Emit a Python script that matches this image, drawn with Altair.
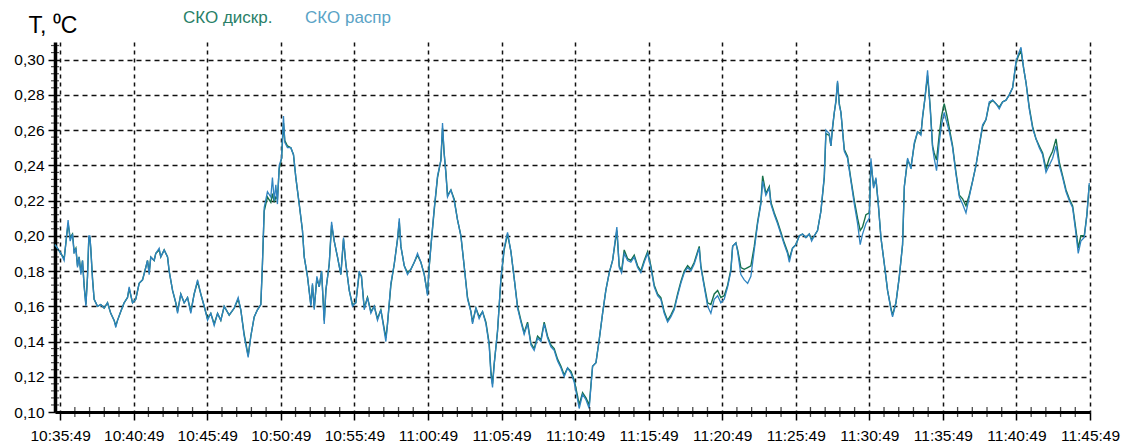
import json

import altair as alt
import pandas as pd

# Time axis: minutes elapsed since 10:35:49
minutes = [
    -0.35, 0.05, 0.27, 0.54, 0.68, 0.84, 0.95, 1.07, 1.18, 1.29, 1.41, 1.52, 1.63, 1.75, 1.86, 1.95, 2.02, 2.08,
    2.20, 2.31, 2.54, 2.76, 2.99, 3.22, 3.44, 3.67, 3.78, 3.90, 4.12, 4.35, 4.58, 4.69, 4.92, 5.14, 5.37, 5.60,
    5.82, 5.94, 6.05, 6.16, 6.39, 6.50, 6.73, 6.84, 7.07, 7.30, 7.41, 7.64, 7.86, 7.98, 8.20, 8.43, 8.66, 8.88,
    9.11, 9.34, 9.56, 9.79, 10.02, 10.24, 10.47, 10.70, 10.92, 11.15,
    11.49, 11.83, 12.10, 12.28, 12.51, 12.78, 12.96, 13.19, 13.41, 13.64, 13.75, 13.87, 14.09, 14.32, 14.43,
    14.55, 14.66, 14.77, 14.89, 15.05, 15.18, 15.27, 15.45, 15.68, 15.86, 16.02, 16.25, 16.47, 16.59, 16.81,
    17.04, 17.15, 17.27, 17.45, 17.61, 17.77, 17.95, 18.06, 18.29, 18.45, 18.63, 18.85, 19.08, 19.26, 19.42,
    19.65, 19.87, 20.10, 20.33, 20.48, 20.67, 20.89, 21.12, 21.35, 21.57, 21.80, 22.14, 22.25, 22.48, 22.71,
    22.93, 23.05, 23.16, 23.39, 23.61, 23.84, 24.07, 24.29, 24.52, 24.75, 24.97, 25.09, 25.20, 25.42, 25.65,
    25.88, 25.99, 26.10, 26.22, 26.33, 26.56, 26.78, 27.01, 27.24, 27.46, 27.69, 27.92, 28.03, 28.26, 28.48,
    28.71, 28.94, 29.16, 29.28, 29.39, 29.50, 29.73, 29.96, 30.18, 30.41, 30.64, 30.86, 31.09, 31.32, 31.54,
    31.77, 32.00, 32.22, 32.45, 32.68, 32.90, 33.13, 33.36, 33.58, 33.81, 34.04, 34.26,
    34.49, 34.72, 34.94, 35.17, 35.28, 35.51, 35.74, 35.96, 36.19, 36.42, 36.64, 36.87, 37.09, 37.32, 37.55,
    37.84, 38.00, 38.16, 38.34, 38.57, 38.79, 39.02, 39.25, 39.47, 39.70, 39.93, 40.15, 40.38, 40.61, 40.83,
    41.06, 41.29, 41.51, 41.74, 41.97, 42.19, 42.42, 42.65, 42.87, 43.10, 43.44, 43.55, 43.78, 44.01, 44.23,
    44.46, 44.69, 44.91, 45.14, 45.37, 45.59, 45.71, 45.93,
    46.05, 46.27, 46.50, 46.73, 46.95, 47.18, 47.41, 47.63, 47.75, 47.97, 48.20, 48.31, 48.54, 48.76, 48.99,
    49.22, 49.44, 49.56, 49.78, 50.01, 50.24, 50.46, 50.69, 50.92, 51.08, 51.26, 51.48, 51.71, 51.94, 52.05,
    52.28, 52.39, 52.50, 52.62, 52.73, 52.84, 52.96, 53.07, 53.30, 53.52, 53.75, 53.98, 54.20, 54.38, 54.54,
    54.77, 55.00, 55.11, 55.29, 55.45, 55.61, 55.79, 56.02, 56.24, 56.47, 56.58, 56.81, 57.04, 57.26,
    57.38, 57.60, 57.83, 58.06, 58.28, 58.51, 58.62, 58.78, 58.96, 59.14, 59.30, 59.41, 59.57, 59.75, 59.91,
    60.09, 60.28, 60.44, 60.66, 60.89, 61.12, 61.34, 61.57, 61.79, 62.02, 62.25, 62.47, 62.70, 62.93, 63.15,
    63.38, 63.61, 63.83, 64.06, 64.29, 64.51, 64.74, 64.97, 65.13, 65.31, 65.49, 65.65, 65.87, 66.10, 66.33,
    66.55, 66.78, 67.01, 67.23, 67.46, 67.69, 67.91, 68.14, 68.37, 68.59, 68.82, 69.05, 69.20, 69.38, 69.61,
    69.79, 69.95,
]

# СКО распр
sko_distr = [
    0.195, 0.190, 0.186, 0.209, 0.197, 0.201, 0.190, 0.193, 0.182, 0.188, 0.178, 0.186, 0.171, 0.160, 0.177, 0.200, 0.200, 0.193,
    0.175, 0.164, 0.160, 0.161, 0.159, 0.162, 0.156, 0.152, 0.148, 0.152, 0.157, 0.162, 0.165, 0.171, 0.162, 0.164, 0.173, 0.175,
    0.182, 0.186, 0.178, 0.188, 0.186, 0.190, 0.193, 0.188, 0.192, 0.188, 0.180, 0.169, 0.162, 0.156, 0.167, 0.162, 0.165, 0.156,
    0.167, 0.175, 0.167, 0.160, 0.152, 0.156, 0.149, 0.156, 0.152, 0.160,
    0.155, 0.159, 0.165, 0.158, 0.143, 0.131, 0.143, 0.154, 0.158, 0.161, 0.184, 0.216, 0.225, 0.222, 0.233,
    0.220, 0.229, 0.218, 0.240, 0.244, 0.268, 0.253, 0.250, 0.250, 0.246, 0.233, 0.218, 0.203, 0.188, 0.177,
    0.160, 0.173, 0.158, 0.177, 0.171, 0.180, 0.150, 0.169, 0.184, 0.208, 0.197, 0.188, 0.178, 0.199, 0.184,
    0.169, 0.160, 0.162, 0.180, 0.177, 0.158, 0.165, 0.156, 0.160, 0.152, 0.158, 0.140, 0.150, 0.173, 0.184,
    0.198, 0.210, 0.194, 0.183, 0.178, 0.181, 0.185, 0.190, 0.185, 0.178, 0.166, 0.183, 0.194, 0.215, 0.234,
    0.243, 0.264, 0.247, 0.235, 0.222, 0.226, 0.220, 0.209, 0.200, 0.183, 0.164, 0.157, 0.150, 0.159, 0.153,
    0.157, 0.150, 0.138, 0.121, 0.114, 0.127, 0.146, 0.176, 0.193, 0.202, 0.191, 0.176, 0.159, 0.151, 0.144,
    0.150, 0.138, 0.135, 0.142, 0.140, 0.150, 0.142, 0.137, 0.135, 0.129, 0.125, 0.120,
    0.125, 0.122, 0.117, 0.107, 0.102, 0.110, 0.107, 0.102, 0.126, 0.128, 0.141, 0.156, 0.169, 0.179, 0.186,
    0.205, 0.182, 0.179, 0.190, 0.186, 0.185, 0.188, 0.182, 0.179, 0.185, 0.190, 0.182, 0.171, 0.166, 0.164,
    0.156, 0.151, 0.154, 0.158, 0.166, 0.173, 0.179, 0.182, 0.180, 0.184, 0.193, 0.182, 0.171, 0.160, 0.156,
    0.164, 0.166, 0.162, 0.164, 0.171, 0.180, 0.194, 0.196,
    0.191, 0.178, 0.175, 0.173, 0.177, 0.192, 0.207, 0.218, 0.231, 0.223, 0.227, 0.218, 0.212, 0.207, 0.201,
    0.195, 0.190, 0.185, 0.193, 0.195, 0.200, 0.201, 0.199, 0.201, 0.197, 0.200, 0.203, 0.214, 0.234, 0.260,
    0.258, 0.251, 0.262, 0.270, 0.277, 0.288, 0.274, 0.270, 0.248, 0.244, 0.231, 0.218, 0.207, 0.195, 0.201,
    0.207, 0.210, 0.244, 0.227, 0.233, 0.218, 0.199, 0.184, 0.169, 0.158, 0.154, 0.162, 0.177, 0.195,
    0.228, 0.244, 0.238, 0.253, 0.259, 0.257, 0.268, 0.278, 0.294, 0.272, 0.250, 0.244, 0.237, 0.253, 0.263,
    0.270, 0.264, 0.259, 0.250, 0.235, 0.222, 0.218, 0.213, 0.222, 0.231, 0.240, 0.251, 0.263, 0.266, 0.276,
    0.277, 0.275, 0.272, 0.276, 0.277, 0.280, 0.284, 0.299, 0.303, 0.307, 0.295, 0.287, 0.272, 0.261, 0.255,
    0.250, 0.246, 0.236, 0.240, 0.244, 0.251, 0.240, 0.233, 0.225, 0.220, 0.216, 0.201, 0.190, 0.197, 0.199,
    0.212, 0.230,
]

# СКО дискр.
sko_discr = [
    0.195, 0.190, 0.187, 0.207, 0.199, 0.201, 0.191, 0.193, 0.183, 0.188, 0.179, 0.186, 0.172, 0.161, 0.177, 0.199, 0.199, 0.193,
    0.176, 0.164, 0.160, 0.161, 0.159, 0.162, 0.156, 0.152, 0.149, 0.152, 0.157, 0.162, 0.165, 0.170, 0.162, 0.164, 0.173, 0.175,
    0.182, 0.186, 0.179, 0.188, 0.186, 0.190, 0.192, 0.188, 0.192, 0.188, 0.180, 0.169, 0.162, 0.157, 0.167, 0.162, 0.165, 0.157,
    0.167, 0.174, 0.167, 0.160, 0.153, 0.156, 0.150, 0.156, 0.152, 0.160,
    0.155, 0.159, 0.164, 0.158, 0.144, 0.132, 0.143, 0.154, 0.158, 0.161, 0.184, 0.214, 0.222, 0.219, 0.224,
    0.219, 0.222, 0.221, 0.238, 0.244, 0.264, 0.254, 0.251, 0.250, 0.246, 0.233, 0.218, 0.203, 0.188, 0.177,
    0.161, 0.172, 0.159, 0.176, 0.171, 0.180, 0.152, 0.169, 0.184, 0.206, 0.197, 0.188, 0.178, 0.198, 0.184,
    0.169, 0.161, 0.162, 0.179, 0.177, 0.159, 0.165, 0.157, 0.160, 0.153, 0.158, 0.142, 0.150, 0.172, 0.184,
    0.198, 0.208, 0.194, 0.183, 0.179, 0.181, 0.185, 0.189, 0.185, 0.178, 0.167, 0.183, 0.194, 0.214, 0.233,
    0.243, 0.261, 0.247, 0.236, 0.223, 0.226, 0.221, 0.209, 0.200, 0.183, 0.165, 0.157, 0.151, 0.159, 0.154,
    0.157, 0.151, 0.139, 0.123, 0.116, 0.127, 0.146, 0.175, 0.192, 0.201, 0.191, 0.176, 0.160, 0.152, 0.145,
    0.151, 0.139, 0.136, 0.143, 0.141, 0.151, 0.143, 0.138, 0.136, 0.130, 0.126, 0.121,
    0.125, 0.123, 0.118, 0.109, 0.104, 0.111, 0.108, 0.104, 0.126, 0.128, 0.141, 0.156, 0.169, 0.179, 0.186,
    0.203, 0.183, 0.180, 0.192, 0.187, 0.186, 0.189, 0.183, 0.180, 0.186, 0.191, 0.183, 0.172, 0.167, 0.165,
    0.157, 0.152, 0.155, 0.159, 0.167, 0.174, 0.180, 0.183, 0.181, 0.185, 0.194, 0.183, 0.172, 0.162, 0.161,
    0.167, 0.169, 0.165, 0.166, 0.172, 0.181, 0.194, 0.196,
    0.192, 0.182, 0.181, 0.182, 0.183, 0.194, 0.208, 0.219, 0.234, 0.224, 0.228, 0.219, 0.213, 0.208, 0.202,
    0.196, 0.191, 0.187, 0.193, 0.195, 0.200, 0.201, 0.199, 0.201, 0.198, 0.200, 0.203, 0.214, 0.233, 0.258,
    0.257, 0.251, 0.261, 0.270, 0.276, 0.287, 0.275, 0.270, 0.249, 0.245, 0.232, 0.220, 0.210, 0.203, 0.205,
    0.212, 0.213, 0.242, 0.228, 0.232, 0.218, 0.199, 0.184, 0.169, 0.159, 0.155, 0.162, 0.177, 0.195,
    0.228, 0.243, 0.239, 0.252, 0.259, 0.258, 0.267, 0.278, 0.291, 0.273, 0.251, 0.247, 0.243, 0.257, 0.268,
    0.275, 0.268, 0.261, 0.251, 0.236, 0.223, 0.221, 0.217, 0.223, 0.231, 0.240, 0.251, 0.262, 0.266, 0.275,
    0.277, 0.275, 0.273, 0.276, 0.277, 0.280, 0.284, 0.298, 0.302, 0.305, 0.295, 0.287, 0.273, 0.262, 0.255,
    0.251, 0.247, 0.238, 0.244, 0.248, 0.255, 0.242, 0.234, 0.226, 0.221, 0.217, 0.203, 0.193, 0.200, 0.200,
    0.212, 0.229,
]

series_names = ["СКО дискр.", "СКО распр"]
series_colors = ["#16704a", "#2f84c0"]
legend_text_colors = ["#2a7f68", "#5aa3c6"]

tick_minutes = list(range(0, 71, 5))
tick_labels = [
    "10:35:49", "10:40:49", "10:45:49", "10:50:49", "10:55:49", "11:00:49", "11:05:49", "11:10:49",
    "11:15:49", "11:20:49", "11:25:49", "11:30:49", "11:35:49", "11:40:49", "11:45:49",
]
minor_minutes = [m for m in range(0, 71) if m % 5]

y_ticks = [0.10, 0.12, 0.14, 0.16, 0.18, 0.20, 0.22, 0.24, 0.26, 0.28, 0.30]
y_minor = [round(0.10 + 0.004 * k, 3) for k in range(0, 53) if k % 5]

FONT = "Liberation Sans"
W, H = 1035, 370

df = pd.DataFrame({"t": minutes, "discr": sko_discr, "distr": sko_distr})

x_scale = alt.Scale(domain=[-0.35, 70], nice=False, zero=False)
y_scale = alt.Scale(domain=[0.10, 0.31], nice=False, zero=False)

x_axis = alt.Axis(
    values=tick_minutes,
    tickCount=len(tick_minutes) + 5,
    labelExpr=f"{json.dumps(tick_labels)}[round(datum.value / 5)]",
    title=None,
    grid=True,
    gridColor="#111111",
    gridDash=[4, 4],
    gridWidth=1.5,
    domainColor="#000000",
    domainWidth=3,
    tickColor="#000000",
    tickWidth=1.5,
    tickSize=8,
    labelFont=FONT,
    labelFontSize=15.5,
    labelColor="#000000",
    labelPadding=8,
    labelFlush=False,
    labelOverlap=False,
)

y_axis = alt.Axis(
    values=y_ticks,
    tickCount=len(y_ticks) + 5,
    format=".2f",
    labelExpr="replace(datum.label, '.', ',')",
    title="T, ⁰C",
    titleAngle=0,
    titleX=-27,
    titleY=-17,
    titleAlign="left",
    titleBaseline="middle",
    titleFont=FONT,
    titleFontSize=23,
    titleFontWeight="normal",
    titleColor="#000000",
    grid=True,
    gridColor="#111111",
    gridDash=[5, 4],
    gridWidth=1.5,
    domainColor="#000000",
    domainWidth=3.5,
    tickColor="#000000",
    tickWidth=1.5,
    tickSize=7,
    labelFont=FONT,
    labelFontSize=15.5,
    labelColor="#000000",
    labelPadding=4,
    labelOverlap=False,
)

base = alt.Chart(df)

line_discr = base.mark_line(color=series_colors[0], strokeWidth=1.4).encode(
    x=alt.X("t:Q", scale=x_scale, axis=x_axis),
    y=alt.Y("discr:Q", scale=y_scale, axis=y_axis),
)
line_distr = base.mark_line(color=series_colors[1], strokeWidth=1.3).encode(
    x=alt.X("t:Q", scale=x_scale),
    y=alt.Y("distr:Q", scale=y_scale),
)

# minute ticks under the time axis
x_minor = alt.Chart(pd.DataFrame({"m": minor_minutes})).mark_tick(
    orient="vertical", size=10, thickness=1.3, color="#000000"
).encode(x=alt.X("m:Q", scale=x_scale), y=alt.datum(0.10, scale=y_scale))

# small ticks along the temperature axis
y_minor_ticks = alt.Chart(pd.DataFrame({"v": y_minor})).mark_tick(
    orient="horizontal", size=8, thickness=1.2, color="#000000"
).encode(y=alt.Y("v:Q", scale=y_scale), x=alt.datum(-0.35, scale=x_scale))

one = pd.DataFrame({"k": [0]})
legend_marks = [
    alt.Chart(one).mark_text(
        align="left", baseline="middle", font=FONT, fontSize=17, color=legend_text_colors[i]
    ).encode(x=alt.value(px), y=alt.value(-24), text=alt.value(series_names[i]))
    for i, px in enumerate([128, 250])
]

chart = alt.layer(line_discr, line_distr, x_minor, y_minor_ticks, *legend_marks).properties(
    width=W,
    height=H,
    padding={"left": 55, "top": 42, "right": 48, "bottom": 36},
    autosize=alt.AutoSizeParams(type="none"),
    background="#ffffff",
).configure_view(stroke=None)

chart.save("out.html", embed_options={"renderer": "svg", "actions": False})
